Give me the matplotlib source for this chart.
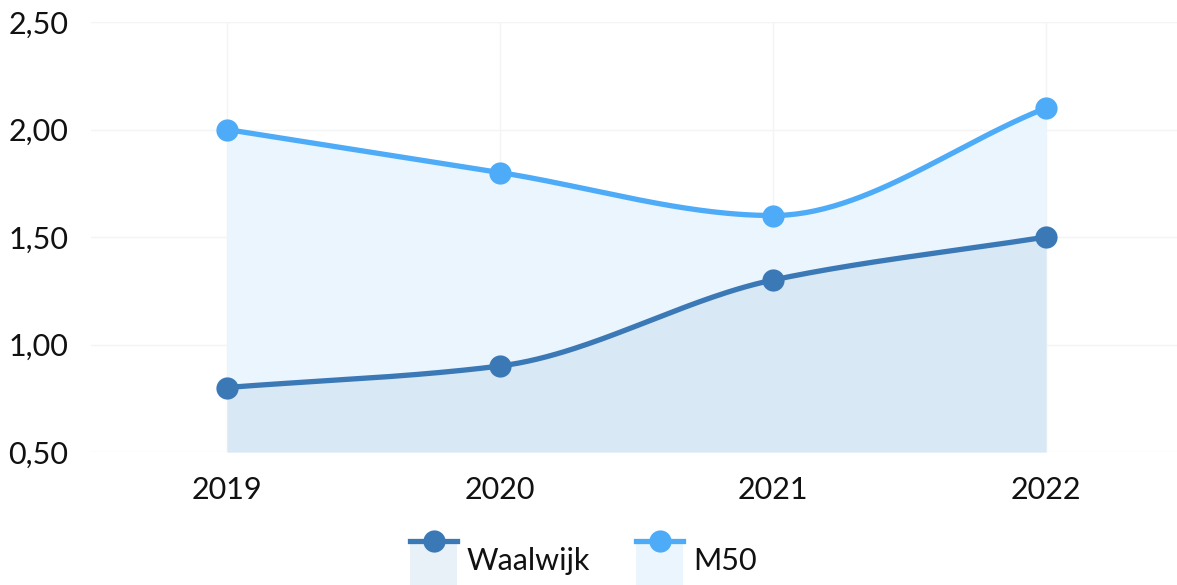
import numpy as np
import matplotlib
matplotlib.use("Agg")
import matplotlib.pyplot as plt
from matplotlib.patches import Rectangle
from matplotlib.lines import Line2D
from matplotlib.ticker import FuncFormatter

categories = ["2019", "2020", "2021", "2022"]
waalwijk = [0.80, 0.90, 1.30, 1.50]
m50 = [2.00, 1.80, 1.60, 2.10]
series_names = ["Waalwijk", "M50"]
yticks = [0.5, 1.0, 1.5, 2.0, 2.5]

FONT = ["Lato", "DejaVu Sans"]
plt.rcParams["font.family"] = FONT

C_W = "#3b79b6"
C_M = "#4dabf7"
F_W = "#d9e8f5"
F_M = "#eaf5fd"


def monotone(x, y, n=60):
    x = np.asarray(x, float); y = np.asarray(y, float)
    h = np.diff(x); d = np.diff(y) / h
    m = np.zeros_like(y)
    m[0] = d[0]; m[-1] = d[-1]
    for i in range(1, len(y) - 1):
        if d[i - 1] * d[i] <= 0:
            m[i] = 0
        else:
            w1 = 2 * h[i] + h[i - 1]; w2 = h[i] + 2 * h[i - 1]
            m[i] = (w1 + w2) / (w1 / d[i - 1] + w2 / d[i])
    xs, ys = [], []
    for i in range(len(x) - 1):
        t = np.linspace(0, 1, n)
        h00 = 2*t**3 - 3*t**2 + 1; h10 = t**3 - 2*t**2 + t
        h01 = -2*t**3 + 3*t**2; h11 = t**3 - t**2
        yy = h00*y[i] + h10*h[i]*m[i] + h01*y[i+1] + h11*h[i]*m[i+1]
        xs.append(x[i] + t*h[i]); ys.append(yy)
    return np.concatenate(xs), np.concatenate(ys)


fig = plt.figure(figsize=(11.77, 5.85), dpi=100)
ax = fig.add_axes([90.5/1177, 1-452/585, 1092/1177, (452-22)/585])

x = np.arange(len(categories))
ymin = yticks[0]
for vals, lc, fc, z in [(m50, C_M, F_M, 1), (waalwijk, C_W, F_W, 2)]:
    xs, ys = monotone(x, vals)
    ax.fill_between(xs, ys, ymin, color=fc, lw=0, zorder=z)
for vals, lc in [(m50, C_M), (waalwijk, C_W)]:
    xs, ys = monotone(x, vals)
    ax.plot(xs, ys, color=lc, lw=3.8, zorder=5, solid_capstyle="round")
    ax.plot(x, vals, 'o', color=lc, ms=16, zorder=6, mec="none")

ax.set_xlim(-0.5, 3.5)
ax.set_ylim(0.5, 2.5)
ax.set_xticks(x)
ax.set_xticklabels(categories)
ax.set_yticks(yticks)
ax.yaxis.set_major_formatter(FuncFormatter(lambda v, p: f"{v:.2f}".replace(".", ",")))
ax.tick_params(axis="both", length=0, labelsize=22, colors="#111111")
ax.tick_params(axis="y", pad=16)
ax.tick_params(axis="x", pad=17)
ax.grid(True, color="#f2f4f6", lw=1, zorder=0)
ax.set_axisbelow(True)
for s in ax.spines.values():
    s.set_visible(False)

# legend
def legend_item(x0, color, fill, label):
    w = 47/1177
    yl = 1 - 541/585
    fig.patches.append(Rectangle((x0, 0), w, yl, transform=fig.transFigure, color=fill, lw=0))
    fig.lines.append(Line2D([x0, x0 + w], [yl, yl], transform=fig.transFigure, color=color, lw=3.8))
    fig.lines.append(Line2D([x0 + w/2], [yl], transform=fig.transFigure, color=color,
                            marker='o', ms=16, mec="none"))
    fig.text(x0 + w + 10/1177, 1 - 561/585, label, fontsize=22, va="center", ha="left",
             color="#111111")

legend_item(410/1177, C_W, "#e8f0f8", series_names[0])
legend_item(636/1177, C_M, "#eaf5fd", series_names[1])

fig.savefig("out.png", dpi=100)
